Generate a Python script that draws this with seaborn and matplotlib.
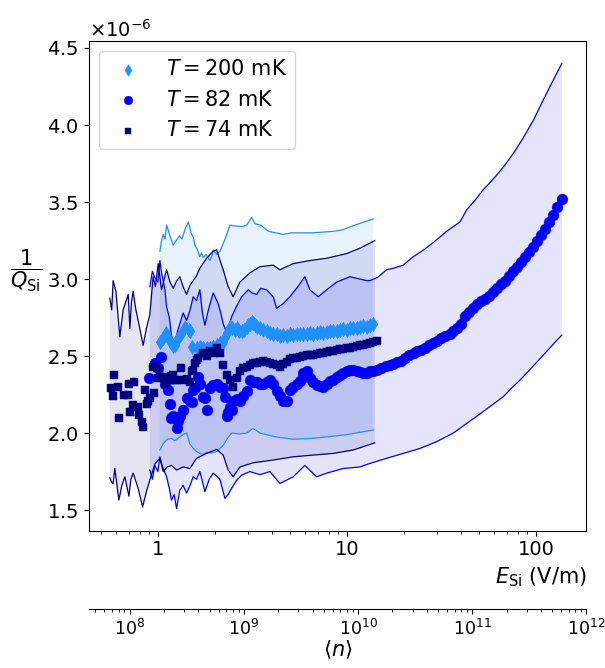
import numpy as np
import pandas as pd
import matplotlib
matplotlib.use("Agg")
import matplotlib.pyplot as plt
import seaborn as sns
from matplotlib.ticker import FuncFormatter, NullFormatter, LogLocator

# ---------------- data (E in V/m, 1/Q in units of 1e-6) ----------------
E200 = [1.025, 1.067, 1.110, 1.160, 1.205, 1.230, 1.280, 1.330, 1.390, 1.460,
        1.480, 1.510, 1.602, 1.668, 1.737, 1.810, 1.884, 1.962, 2.045, 2.128,
        2.216, 2.262, 2.310, 2.404, 2.454, 2.550, 2.610, 2.680, 2.773, 2.850,
        2.946, 3.004, 3.067, 3.130, 3.190, 3.260, 3.327, 3.465, 3.606, 3.759,
        3.914, 4.074, 4.246, 4.420, 4.600, 4.796, 4.990, 5.200, 5.420, 5.640,
        5.870, 6.120, 6.370, 6.630, 6.910, 7.200, 7.500, 7.810, 8.130, 8.460,
        8.820, 9.200, 9.550, 9.960, 10.37, 10.80, 11.25, 11.71, 12.20, 12.71,
        13.24, 13.78]
Q200 = [2.59, 2.62, 2.647, 2.60, 2.565, 2.57, 2.615, 2.64, 2.69, 2.67,
        2.66, 2.56, 2.55, 2.56, 2.55, 2.55, 2.555, 2.56, 2.57, 2.583,
        2.59, 2.625, 2.65, 2.69, 2.68, 2.67, 2.68, 2.665, 2.66, 2.67,
        2.69, 2.70, 2.71, 2.72, 2.715, 2.70, 2.69, 2.68, 2.67, 2.66,
        2.65, 2.645, 2.64, 2.63, 2.635, 2.63, 2.64, 2.635, 2.64, 2.645,
        2.64, 2.645, 2.65, 2.645, 2.65, 2.655, 2.65, 2.655, 2.66, 2.665,
        2.66, 2.67, 2.675, 2.67, 2.68, 2.685, 2.68, 2.69, 2.695, 2.69,
        2.70, 2.705]

E82 = [0.900, 0.964, 1.004, 1.040, 1.090, 1.130, 1.160, 1.180, 1.205, 1.256,
       1.280, 1.307, 1.361, 1.419, 1.476, 1.510, 1.540, 1.570, 1.630, 1.668,
       1.737, 1.773, 1.810, 1.884, 1.962, 2.045, 2.128, 2.216, 2.262, 2.310,
       2.355, 2.404, 2.454, 2.500, 2.610, 2.716, 2.830, 2.946, 3.067, 3.190,
       3.327, 3.465, 3.606, 3.759, 3.914, 4.074, 4.246, 4.420, 4.600, 4.796,
       4.990, 5.200, 5.420, 5.640, 5.870, 6.120, 6.370, 6.630, 6.910, 7.200,
       7.500, 7.810, 8.130, 8.460, 8.820, 9.200, 9.550, 9.960, 10.37, 10.80,
       11.25, 11.71, 12.20, 12.71, 13.24, 13.78,
       14.5, 15.2, 16.0, 16.8, 17.6, 18.5, 19.4, 20.4, 21.4, 22.5,
       23.6, 24.8, 26.0, 27.3, 28.7, 30.1, 31.6, 33.2, 34.9, 36.6,
       38.4, 40.3, 42.3, 44.4, 46.7, 49.0, 51.4, 54.0, 56.7, 59.5,
       62.5, 65.6, 68.9, 72.3, 75.9, 79.7, 83.7, 87.9, 92.3, 96.9,
       101.7, 106.8, 112.2, 117.8, 123.7, 129.8, 136.5]
Q82 = [2.355, 2.453, 2.42, 2.495, 2.32, 2.28, 2.19, 2.095, 2.11, 2.03,
       2.08, 2.11, 2.15, 2.225, 2.21, 2.20, 2.28, 2.29, 2.365, 2.32,
       2.235, 2.225, 2.15, 2.29, 2.31, 2.32, 2.30, 2.29, 2.235, 2.11,
       2.14, 2.17, 2.15, 2.21, 2.22, 2.21, 2.24, 2.27, 2.345, 2.33,
       2.33, 2.32, 2.32, 2.33, 2.345, 2.32, 2.27, 2.24, 2.21, 2.205,
       2.28, 2.30, 2.32, 2.34, 2.39, 2.40, 2.36, 2.33, 2.31, 2.305,
       2.30, 2.32, 2.34, 2.345, 2.365, 2.38, 2.39, 2.40, 2.41, 2.41,
       2.40, 2.395, 2.39, 2.39, 2.40, 2.405,
       2.41, 2.42, 2.435, 2.445, 2.45, 2.46, 2.47, 2.49, 2.505, 2.52,
       2.53, 2.54, 2.555, 2.57, 2.585, 2.60, 2.615, 2.63, 2.645, 2.66,
       2.68, 2.71, 2.76, 2.785, 2.81, 2.835, 2.855, 2.87, 2.89, 2.915,
       2.94, 2.965, 2.99, 3.02, 3.05, 3.08, 3.11, 3.14, 3.175, 3.21,
       3.245, 3.285, 3.325, 3.37, 3.415, 3.465, 3.52]

E74 = [0.564, 0.580, 0.585, 0.617, 0.624, 0.660, 0.697, 0.705, 0.710, 0.740,
       0.750, 0.787, 0.796, 0.820, 0.836, 0.853, 0.880, 0.889, 0.907, 0.944,
       0.956, 0.984, 1.004, 1.025, 1.067, 1.090, 1.160, 1.180, 1.205, 1.230,
       1.256, 1.320, 1.380, 1.420, 1.476, 1.510, 1.540, 1.570, 1.602, 1.630,
       1.737, 1.810, 1.884, 1.962, 2.045, 2.128, 2.216, 2.310, 2.404, 2.500,
       2.610, 2.716, 2.830, 2.946, 3.067, 3.190, 3.327, 3.465, 3.606, 3.759,
       3.914, 4.074, 4.246, 4.420, 4.600, 4.796, 4.990, 5.200, 5.420, 5.640,
       5.870, 6.120, 6.370, 6.630, 6.910, 7.200, 7.500, 7.810, 8.130, 8.460,
       8.820, 9.200, 9.550, 9.960, 10.37, 10.80, 11.25, 11.71, 12.20, 12.71,
       13.24, 13.78, 14.36]
Q74 = [2.29, 2.24, 2.38, 2.30, 2.10, 2.25, 2.25, 2.32, 2.14, 2.18,
       2.33, 2.17, 2.12, 2.07, 2.04, 2.28, 2.19, 2.21, 2.225, 2.43,
       2.26, 2.42, 2.355, 2.365, 2.365, 2.32, 2.345, 2.37, 2.38, 2.345,
       2.345, 2.42, 2.345, 2.35, 2.333, 2.40, 2.41, 2.453, 2.474, 2.485,
       2.52, 2.50, 2.53, 2.52, 2.55, 2.52, 2.44, 2.377, 2.345, 2.30,
       2.355, 2.40, 2.42, 2.43, 2.44, 2.453, 2.455, 2.464, 2.465, 2.462,
       2.458, 2.45, 2.44, 2.43, 2.45, 2.464, 2.48, 2.485, 2.49, 2.497,
       2.50, 2.505, 2.507, 2.51, 2.515, 2.52, 2.523, 2.527, 2.53, 2.535,
       2.54, 2.545, 2.548, 2.55, 2.555, 2.56, 2.565, 2.57, 2.575, 2.58,
       2.587, 2.59, 2.595]

# confidence bands (upper / lower edges)
B200_UP_E = [1.025, 1.046, 1.067, 1.090, 1.112, 1.140, 1.160, 1.205, 1.250, 1.300,
             1.340, 1.400, 1.450, 1.500, 1.540, 1.570, 1.620, 1.668, 1.700, 1.740,
             1.800, 1.884, 1.930, 1.962, 2.050, 2.128, 2.216, 2.300, 2.404, 2.550,
             2.773, 2.950, 3.130, 3.260, 3.500, 3.850, 4.200, 4.600, 5.100, 5.640,
             6.500, 7.500, 8.460, 9.500, 11.00, 12.30, 13.78]
B200_UP = [3.18, 3.25, 3.29, 3.26, 3.35, 3.31, 3.28, 3.22, 3.25, 3.28,
           3.26, 3.33, 3.37, 3.30, 3.27, 3.22, 3.19, 3.145, 3.17, 3.14,
           3.16, 3.12, 3.15, 3.19, 3.16, 3.18, 3.23, 3.28, 3.35, 3.345,
           3.34, 3.35, 3.40, 3.36, 3.35, 3.31, 3.30, 3.29, 3.30, 3.30,
           3.30, 3.305, 3.31, 3.32, 3.35, 3.37, 3.39]
B200_LO_E = [1.025, 1.067, 1.120, 1.180, 1.230, 1.307, 1.360, 1.419, 1.476, 1.540,
             1.600, 1.668, 1.740, 1.810, 1.900, 2.045, 2.130, 2.216, 2.330, 2.454,
             2.700, 2.950, 3.190, 3.465, 4.200, 5.200, 6.500, 7.810, 10.00, 13.78]
B200_LO = [1.89, 1.93, 1.96, 1.965, 1.95, 1.975, 1.99, 2.0, 1.93, 1.90,
           1.88, 1.868, 1.86, 1.875, 1.87, 1.88, 1.90, 1.92, 1.965, 2.0,
           1.995, 2.0, 2.03, 2.0, 1.975, 1.96, 1.965, 1.975, 1.99, 2.02]

B82_UP_E = [0.907, 0.935, 0.964, 1.000, 1.025, 1.046, 1.067, 1.090, 1.112, 1.150,
            1.180, 1.230, 1.270, 1.307, 1.360, 1.419, 1.480, 1.538, 1.600, 1.668,
            1.720, 1.773, 1.850, 1.962, 2.085, 2.150, 2.216, 2.310, 2.380, 2.454,
            2.600, 2.773, 3.004, 3.150, 3.327, 3.500, 3.759, 4.074, 4.246, 4.600,
            4.990, 5.500, 5.990, 6.370, 7.050, 7.810, 8.820, 10.37, 12.71, 13.24,
            14.50, 16.20, 17.60, 19.86, 22.40, 24.80, 27.50, 30.50, 33.70, 36.50,
            39.60, 43.00, 47.50, 52.60, 57.00, 62.00, 68.50, 75.90, 85.00, 96.80,
            107.0, 118.6, 128.0, 137.0]
B82_UP = [2.95, 3.05, 3.01, 2.98, 3.12, 3.04, 2.99, 2.93, 2.82, 2.75,
          2.63, 2.58, 2.66, 2.71, 2.78, 2.73, 2.80, 2.885, 2.86, 2.93,
          2.78, 2.70, 2.80, 2.91, 2.84, 2.78, 2.71, 2.65, 2.70, 2.755,
          2.82, 2.885, 2.93, 2.91, 2.90, 2.94, 2.93, 2.885, 2.81, 2.84,
          2.885, 2.95, 3.015, 2.93, 2.885, 2.93, 2.98, 3.015, 2.99, 2.99,
          3.01, 3.06, 3.07, 3.09, 3.145, 3.18, 3.22, 3.265, 3.31, 3.34,
          3.37, 3.45, 3.51, 3.58, 3.625, 3.675, 3.74, 3.816, 3.91, 4.03,
          4.14, 4.25, 4.33, 4.40]
B82_LO_E = [0.907, 0.935, 0.964, 1.000, 1.025, 1.046, 1.067, 1.112, 1.150, 1.180,
            1.220, 1.256, 1.307, 1.360, 1.419, 1.480, 1.538, 1.600, 1.668, 1.773,
            1.870, 1.962, 2.050, 2.128, 2.262, 2.350, 2.454, 2.600, 2.773, 3.067,
            3.465, 3.914, 4.420, 5.200, 5.990, 6.910, 7.810, 9.550, 11.71, 13.24,
            16.20, 19.86, 24.30, 29.80, 36.50, 43.00, 47.50, 52.60, 59.00, 67.10,
            74.00, 82.30, 91.00, 100.9, 112.0, 124.0, 137.0]
B82_LO = [1.76, 1.70, 1.79, 1.75, 1.846, 1.80, 1.77, 1.716, 1.64, 1.565,
          1.60, 1.51, 1.63, 1.66, 1.61, 1.66, 1.716, 1.70, 1.75, 1.62,
          1.70, 1.74, 1.72, 1.70, 1.576, 1.60, 1.64, 1.69, 1.727, 1.75,
          1.73, 1.75, 1.673, 1.716, 1.79, 1.716, 1.74, 1.77, 1.78, 1.803,
          1.836, 1.868, 1.90, 1.944, 2.0, 2.063, 2.10, 2.14, 2.185, 2.236,
          2.29, 2.344, 2.40, 2.46, 2.52, 2.58, 2.636]

B74_UP_E = [0.557, 0.570, 0.580, 0.600, 0.629, 0.655, 0.680, 0.697, 0.711, 0.725,
            0.740, 0.765, 0.787, 0.836, 0.870, 0.907, 0.944, 0.970, 1.004, 1.046,
            1.080, 1.112, 1.160, 1.205, 1.260, 1.307, 1.360, 1.419, 1.480, 1.538,
            1.600, 1.668, 1.810, 1.962, 2.045, 2.216, 2.355, 2.500, 2.716, 3.067,
            3.465, 4.074, 4.420, 5.200, 6.370, 7.810, 9.960, 11.71, 14.06]
B74_UP = [2.875, 2.80, 2.99, 2.92, 2.625, 2.80, 2.86, 2.90, 2.68, 2.85,
          2.92, 2.80, 2.73, 2.57, 2.68, 2.77, 3.015, 2.95, 3.10, 2.93,
          3.00, 3.06, 2.98, 2.94, 2.99, 3.015, 2.95, 2.90, 2.96, 2.99,
          3.02, 3.07, 3.135, 3.18, 3.19, 3.06, 2.95, 2.885, 2.98, 3.04,
          3.08, 3.09, 3.06, 3.10, 3.12, 3.135, 3.165, 3.20, 3.25]
B74_LO_E = [0.557, 0.570, 0.580, 0.592, 0.622, 0.645, 0.669, 0.703, 0.720, 0.740,
            0.787, 0.830, 0.870, 0.907, 0.964, 1.025, 1.067, 1.120, 1.180, 1.256,
            1.361, 1.476, 1.602, 1.810, 2.045, 2.216, 2.355, 2.500, 2.716, 3.190,
            4.074, 5.200, 6.630, 8.460, 10.80, 14.06]
B74_LO = [1.71, 1.68, 1.67, 1.77, 1.565, 1.66, 1.716, 1.59, 1.70, 1.74,
          1.64, 1.52, 1.62, 1.695, 1.80, 1.836, 1.75, 1.78, 1.79, 1.76,
          1.78, 1.77, 1.836, 1.868, 1.894, 1.857, 1.76, 1.716, 1.78, 1.807,
          1.825, 1.846, 1.857, 1.868, 1.89, 1.937]

LABELS = [r"$T = 200$ mK", r"$T = 82$ mK", r"$T = 74$ mK"]
COLORS = ["dodgerblue", "blue", "navy"]
SCALE = 1e-6
N_LIM = (10 ** 7.64, 1e12)

# ---------------- style ----------------
plt.rcParams.update({
    "font.family": ["DejaVu Sans"],
    "xtick.labelsize": 14,
    "ytick.labelsize": 14,
})

fig = plt.figure(figsize=(6.05, 6.68), dpi=100)
ax = fig.add_axes([0.1464, 0.2055, 0.823, 0.7335])
ax.set_xscale("log")

series = [
    (E200, Q200, B200_UP_E, B200_UP, B200_LO_E, B200_LO, "d", 55),
    (E82, Q82, B82_UP_E, B82_UP, B82_LO_E, B82_LO, "o", 60),
    (E74, Q74, B74_UP_E, B74_UP, B74_LO_E, B74_LO, "s", 38),
]

for (ex, qy, ue, uq, le, lq, mk, ms), lab, col in zip(series, LABELS, COLORS):
    ue = np.asarray(ue); uq = np.asarray(uq) * SCALE
    le = np.asarray(le); lq = np.asarray(lq) * SCALE
    ax.fill(np.r_[ue, le[::-1]], np.r_[uq, lq[::-1]], color=col, alpha=0.1,
            linewidth=0, zorder=1)
    sns.lineplot(x=ue, y=uq, color=col, lw=0.9, ax=ax, estimator=None,
                 sort=False, legend=False, zorder=2)
    sns.lineplot(x=le, y=lq, color=col, lw=0.9, ax=ax, estimator=None,
                 sort=False, legend=False, zorder=2)

for (ex, qy, ue, uq, le, lq, mk, ms), lab, col in zip(series, LABELS, COLORS):
    df = pd.DataFrame({"E": ex, "Q": np.asarray(qy) * SCALE})
    sns.scatterplot(data=df, x="E", y="Q", marker=mk, s=ms, color=col,
                    edgecolor=col, linewidth=0.3, label=lab, ax=ax, zorder=3)

ax.set_xlim(0.43, 185)
ax.set_ylim(1.366e-6, 4.547e-6)
ax.xaxis.set_major_formatter(FuncFormatter(lambda v, p: f"{v:g}"))
ax.xaxis.set_minor_formatter(NullFormatter())
ax.ticklabel_format(axis="y", style="sci", scilimits=(-6, -6), useMathText=True)
ax.yaxis.get_offset_text().set_fontsize(14)

ax.set_xlabel(r"$E_\mathrm{Si}$ (V/m)", loc="right", fontsize=15)
ax.set_ylabel(r"$\dfrac{1}{Q_\mathrm{Si}}$", rotation=0, fontsize=15,
              va="center", ha="center")
ax.yaxis.set_label_coords(-0.125, 0.53)

leg = ax.legend(loc="upper left", fontsize=15, frameon=True, markerscale=0.8)

# secondary axis for photon number
ax2 = fig.add_axes([0.1464, 0.0883, 0.823, 0.0001])
ax2.set_xscale("log")
ax2.set_xlim(*N_LIM)
ax2.yaxis.set_visible(False)
ax2.patch.set_alpha(0)
for s in ["top", "left", "right"]:
    ax2.spines[s].set_visible(False)
ax2.xaxis.set_major_locator(LogLocator(base=10, numticks=20))
ax2.xaxis.set_minor_locator(LogLocator(base=10, subs=np.arange(2, 10), numticks=100))
ax2.xaxis.set_minor_formatter(NullFormatter())
ax2.tick_params(axis="x", labelsize=12.5)
ax2.set_xlabel(r"$\langle n\rangle$", fontsize=15, labelpad=0)

fig.savefig("out.png", dpi=100)
